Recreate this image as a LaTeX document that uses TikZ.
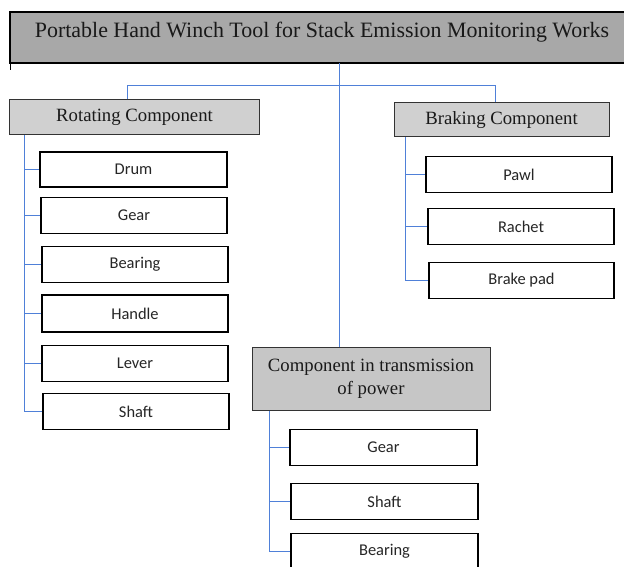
\documentclass[tikz,border=0pt]{standalone}
\usepackage{fontspec}
\setmainfont{Liberation Serif}
\newfontfamily\calib{Carlito}
\definecolor{conncol}{HTML}{4F80D8}
\definecolor{titlefill}{HTML}{A8A8A8}
\definecolor{headfill}{HTML}{D0D0D0}
\definecolor{transfill}{HTML}{C6C6C6}
\begin{document}
\begin{tikzpicture}[x=1bp,y=-1bp,
  titletext/.style={inner sep=0pt,text height=15pt,text depth=14pt,
    font=\fontsize{22}{26}\selectfont,text=black!90},
  headbox/.style={draw=black!80,line width=1bp,fill=headfill,inner sep=0pt,
    font=\fontsize{18.8}{23}\selectfont,text=black!90},
  leafbox/.style={draw=black,line width=1.5bp,fill=white,inner sep=0pt,
    minimum width=186bp,minimum height=36bp,font=\calib\fontsize{16.5}{20}\selectfont,text=black!85},
  conn/.style={draw=conncol,line width=1.2bp}]
\useasboundingbox (0,0) rectangle (624,567);
\clip (0,0) rectangle (624,567);
\fill[white] (0,0) rectangle (624,567);
% title
\fill[titlefill] (10,12) rectangle (660,63);
\draw[black,line width=1.4bp] (660,12) -- (10,12) -- (10,63) -- (660,63);
\draw[black,line width=1bp] (10,63) -- (10,70);
\node[titletext,minimum height=51bp] (title) at (322,37.5) {Portable Hand Winch Tool for Stack Emission Monitoring Works};
% headers
\node[headbox,minimum width=249bp,minimum height=35bp] (rot) at (134.5,117.5) {Rotating Component};
\node[headbox,minimum width=215bp,minimum height=34bp] (brake) at (501.5,120) {Braking Component};
\node[headbox,fill=transfill,minimum width=238bp,minimum height=63bp,align=center] (trans) at (371,378.5) {Component in transmission\\of power};
% top connectors
\coordinate (hub) at (339.5,85.5);
\coordinate (hl) at (127.5,85.5);
\coordinate (hr) at (495.5,85.5);
\draw[conn] (hub |- title.south) -- (hub |- trans.north);
\draw[conn] (hl |- rot.north) -- (hl) -- (hr) -- (hr |- brake.north);
% rotating leaves
\node[leafbox,minimum width=187bp,minimum height=35bp] (drum) at (133.5,169.5) {Drum};
\node[leafbox] (gearA) at (134,215.5) {Gear};
\node[leafbox] (bearA) at (135,264.5) {Bearing};
\node[leafbox,minimum height=37bp] (handle) at (135,313.5) {Handle};
\node[leafbox] (lever) at (135,363.5) {Lever};
\node[leafbox] (shaftA) at (136,411.5) {Shaft};
\coordinate (rs) at (24.5,135);
\draw[conn] (rs |- rot.south) |- (shaftA.west);
\foreach \n in {drum,gearA,bearA,handle,lever} \draw[conn] (rs |- \n.west) -- (\n.west);
% braking leaves
\node[leafbox] (pawl) at (519,174.5) {Pawl};
\node[leafbox] (rachet) at (521,226.5) {Rachet};
\node[leafbox,minimum width=185bp] (pad) at (521.5,280.5) {Brake pad};
\coordinate (bs) at (405.5,137);
\draw[conn] (bs |- brake.south) |- (pad.west);
\foreach \n in {pawl,rachet} \draw[conn] (bs |- \n.west) -- (\n.west);
% transmission leaves
\node[leafbox,minimum width=187bp] (gearB) at (383.5,447.5) {Gear};
\node[leafbox,minimum width=187bp] (shaftB) at (384.5,501.5) {Shaft};
\node[leafbox,minimum width=187bp] (bearB) at (384.5,551.5) {Bearing};
\coordinate (ts) at (269.5,410);
\draw[conn] (ts |- trans.south) |- (bearB.west);
\foreach \n in {gearB,shaftB} \draw[conn] (ts |- \n.west) -- (\n.west);
\end{tikzpicture}
\end{document}
